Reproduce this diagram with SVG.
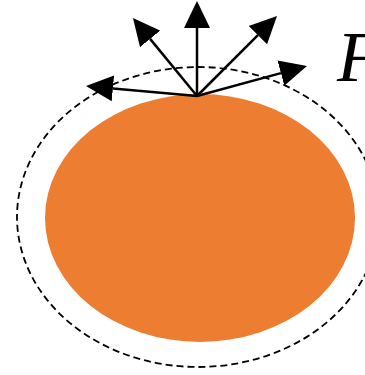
<svg xmlns="http://www.w3.org/2000/svg" width="365" height="375" viewBox="0 0 365 375">
<style>
.ray{stroke:#000;stroke-width:2.5;fill:none;marker-end:url(#head)}
.label{font-family:"Liberation Serif",serif;font-style:italic;font-size:72px;fill:#000}
</style>
<defs>
<marker id="head" markerUnits="userSpaceOnUse" markerWidth="28" markerHeight="28" viewBox="0 -14 28 28" refX="0" refY="0" orient="auto">
<path d="M0,-13 L27,0 L0,13 z" fill="#000"/>
</marker>
</defs>
<rect width="365" height="375" fill="#fff"/>
<g id="field">
<ellipse cx="198" cy="217" rx="181" ry="150" fill="none" stroke="#000" stroke-width="1.8" stroke-dasharray="7 4"/>
</g>
<g id="body">
<ellipse cx="200" cy="218" rx="155" ry="124" fill="#ED7D31"/>
</g>
<g id="connectors">
<line class="ray" x1="197" y1="96" x2="197" y2="28"/>
<line class="ray" x1="197" y1="96" x2="150.1" y2="38.9"/>
<line class="ray" x1="197" y1="96" x2="257.9" y2="35.1"/>
<line class="ray" x1="197" y1="96" x2="112.9" y2="88.4"/>
<line class="ray" x1="197" y1="96" x2="280.9" y2="73.1"/>
</g>
<g id="label">
<text class="label" x="337" y="81">F</text>
</g>
</svg>
